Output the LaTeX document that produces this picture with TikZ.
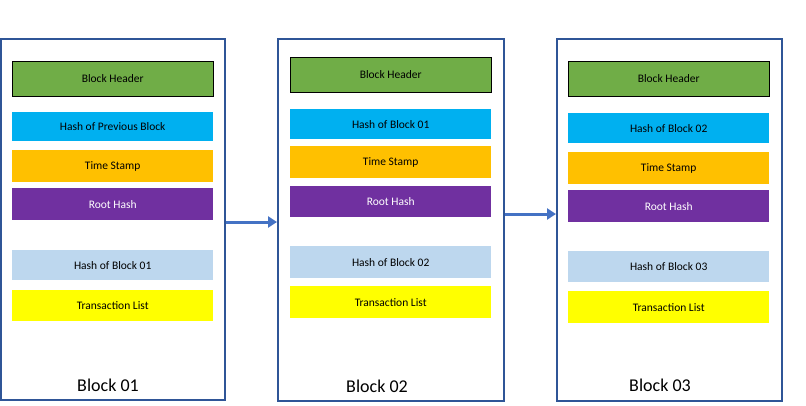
\documentclass[tikz,border=0pt]{standalone}
\usepackage{fontspec}
\setmainfont{Carlito}
\usetikzlibrary{arrows.meta}
\definecolor{frame}{HTML}{2F5597}
\definecolor{arr}{HTML}{4472C4}
\definecolor{hdr}{HTML}{70AD47}
\definecolor{cy}{HTML}{00B0F0}
\definecolor{org}{HTML}{FFC000}
\definecolor{pur}{HTML}{7030A0}
\definecolor{lb}{HTML}{BDD7EE}
\definecolor{yel}{HTML}{FFFF00}
\begin{document}
\begin{tikzpicture}[x=1pt,y=-1pt,
  blk/.style={draw=frame,line width=2pt},
  bar/.style={inner sep=0pt,font=\fontsize{11.5}{13}\selectfont},
  lbl/.style={font=\fontsize{18}{20}\selectfont},
  con/.style={draw=arr,line width=3pt,-{Triangle[length=9pt,width=11pt]}}]
\useasboundingbox (0,0) rectangle (806,405);
\newcommand\mybar[6]{% name, x1, y1, y2, fill, text
  \node[bar,fill=#5,minimum width=201pt,minimum height={#4-#3},anchor=north west] (#1) at (#2,#3) {#6};}
% block 1
\node[blk,minimum width=224pt,minimum height=361pt,anchor=north west,inner sep=0pt] (b1) at (0,38) {};
\mybar{h1}{12}{61}{96}{hdr}{Block Header}
\draw[line width=1pt] (h1.north west) rectangle (h1.south east);
\mybar{p1}{12}{112}{141}{cy}{Hash of Previous Block}
\mybar{t1}{12}{150}{182}{org}{Time Stamp}
\mybar{r1}{12}{188}{220}{pur}{\textcolor{white}{Root Hash}}
\mybar{k1}{12}{250}{280}{lb}{Hash of Block 01}
\mybar{x1}{12}{290}{321}{yel}{Transaction List}
\node[lbl] (l1) at (108,385) {Block 01};
% block 2
\node[blk,minimum width=226pt,minimum height=362pt,anchor=north west,inner sep=0pt] (b2) at (277,38) {};
\mybar{h2}{290}{57}{92}{hdr}{Block Header}
\draw[line width=1pt] (h2.north west) rectangle (h2.south east);
\mybar{p2}{290}{109}{139}{cy}{Hash of Block 01}
\mybar{t2}{290}{146}{178}{org}{Time Stamp}
\mybar{r2}{290}{186}{217}{pur}{\textcolor{white}{Root Hash}}
\mybar{k2}{290}{246}{278}{lb}{Hash of Block 02}
\mybar{x2}{290}{286}{318}{yel}{Transaction List}
\node[lbl] (l2) at (377,386) {Block 02};
% block 3
\node[blk,minimum width=225pt,minimum height=362pt,anchor=north west,inner sep=0pt] (b3) at (556,38) {};
\mybar{h3}{568}{61}{96}{hdr}{Block Header}
\draw[line width=1pt] (h3.north west) rectangle (h3.south east);
\mybar{p3}{568}{113}{143}{cy}{Hash of Block 02}
\mybar{t3}{568}{152}{184}{org}{Time Stamp}
\mybar{r3}{568}{190}{222}{pur}{\textcolor{white}{Root Hash}}
\mybar{k3}{568}{251}{282}{lb}{Hash of Block 03}
\mybar{x3}{568}{291}{323}{yel}{Transaction List}
\node[lbl] (l3) at (660,385) {Block 03};
% arrows
\draw[con] (b1.east |- 0,222) -- (b2.west |- 0,222);
\draw[con] (b2.east |- 0,214) -- (b3.west |- 0,214);
\end{tikzpicture}
\end{document}
